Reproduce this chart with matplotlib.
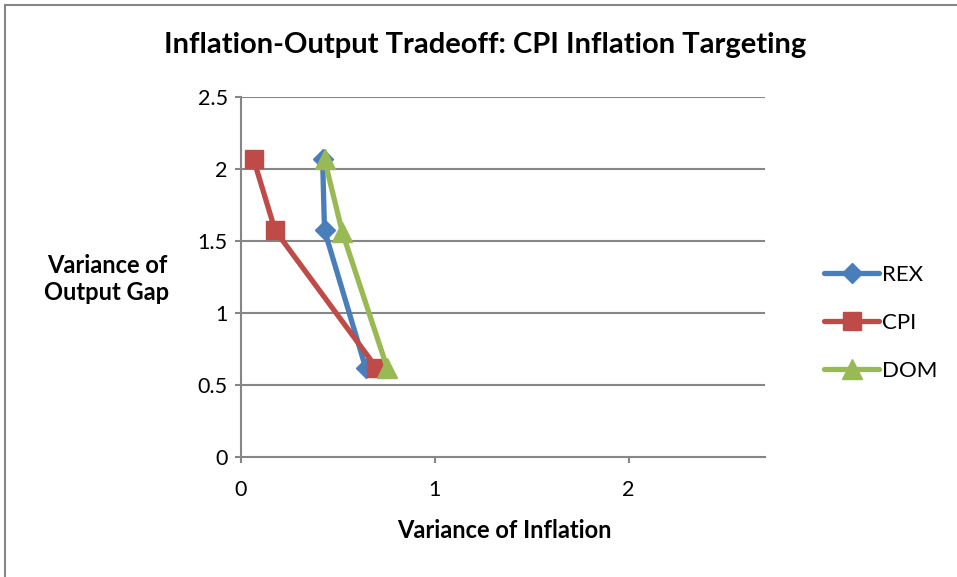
import matplotlib
matplotlib.use("Agg")
import matplotlib.pyplot as plt
from matplotlib.patches import Rectangle

plt.rcParams['font.family'] = ['Lato', 'DejaVu Sans']

rex_x = [0.421, 0.431, 0.643]
rex_y = [2.067, 1.574, 0.62]
cpi_x = [0.065, 0.176, 0.699]
cpi_y = [2.067, 1.574, 0.62]
dom_x = [0.431, 0.523, 0.754]
dom_y = [2.067, 1.56, 0.62]

xticks = [0, 1, 2]
yticks = [0, 0.5, 1, 1.5, 2, 2.5]
ytick_labels = ['0', '0.5', '1', '1.5', '2', '2.5']

W, H = 957, 577
fig = plt.figure(figsize=(W / 100, H / 100), dpi=100)
fig.patch.set_facecolor('white')

ax = fig.add_axes([241 / W, (H - 457) / H, (765 - 241) / W, (457 - 97) / H])

grid_c = '#868686'
ax.set_xlim(0, 2.704)
ax.set_ylim(0, 2.5)
ax.set_yticks(yticks)
ax.set_yticklabels(ytick_labels)
ax.set_xticks(xticks)
for y in yticks[1:]:
    ax.axhline(y, color=grid_c, lw=1.5, zorder=1)

for s in ['top', 'right']:
    ax.spines[s].set_visible(False)
for s in ['left', 'bottom']:
    ax.spines[s].set_color(grid_c)
    ax.spines[s].set_linewidth(1.5)
ax.tick_params(axis='both', colors=grid_c, length=4.5, width=1.5, direction='out',
               labelcolor='black', labelsize=15.5)
ax.tick_params(axis='y', pad=5)
ax.tick_params(axis='x', pad=12)

lw = 3.8
ax.plot(rex_x, rex_y, color='#4a7ebb', lw=lw, marker='D', markersize=10,
        label='REX', zorder=3, solid_capstyle='round')
ax.plot(cpi_x, cpi_y, color='#be4b48', lw=lw, marker='s', markersize=13.5,
        label='CPI', zorder=4, solid_capstyle='round')
ax.plot(dom_x, dom_y, color='#98b954', lw=lw, marker='^', markersize=14.5,
        label='DOM', zorder=5, solid_capstyle='round')

leg = ax.legend(loc='center left', bbox_to_anchor=(815 / W, (H - 323) / H),
                bbox_transform=fig.transFigure, frameon=False, fontsize=16,
                handlelength=2.5, handletextpad=0.1, labelspacing=1.25,
                borderaxespad=0)

fig.text(504 / W, 1 - 531 / H, 'Variance of Inflation', ha='center', va='center',
         fontsize=17, fontweight='bold')
fig.text(107 / W, 1 - 279 / H, 'Variance of\nOutput Gap', ha='center', va='center',
         fontsize=17, fontweight='bold', linespacing=1.2)
fig.text(485 / W, 1 - 45 / H, 'Inflation-Output Tradeoff: CPI Inflation Targeting',
         ha='center', va='center', fontsize=21, fontweight='bold')

fig.patches.append(Rectangle((5 / W, -0.1), 1.2, 1 - 5 / H + 0.1,
                             transform=fig.transFigure, fill=False,
                             edgecolor='#868686', lw=1.5))

fig.savefig('out.png', dpi=100)
